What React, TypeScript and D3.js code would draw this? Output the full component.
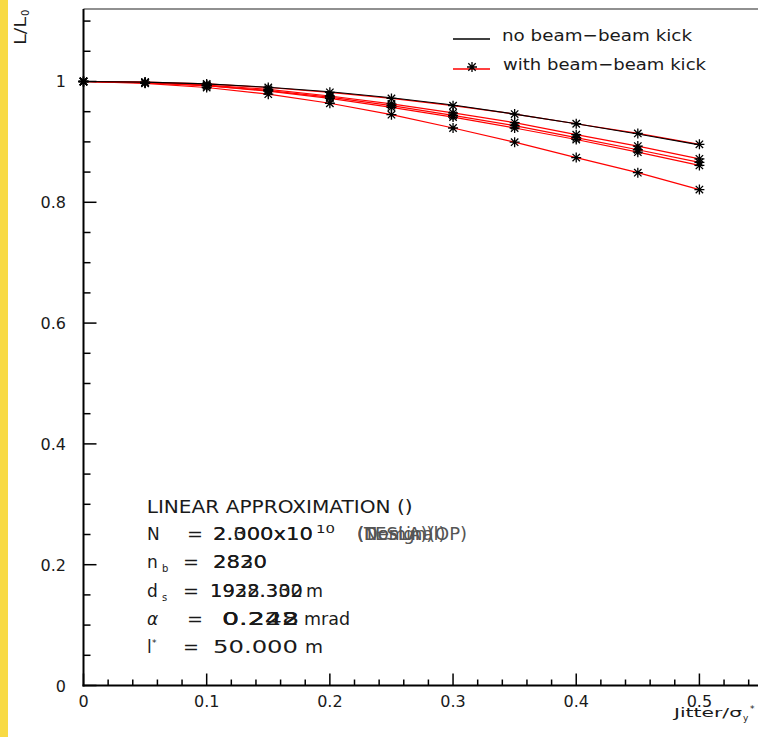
import React from 'react';
import * as d3 from 'd3';

// ---- data ----
const jitter = [0, 0.05, 0.1, 0.15, 0.2, 0.25, 0.3, 0.35, 0.4, 0.45, 0.5];
const noBeamBeam = [1, 0.999, 0.996, 0.9905, 0.983, 0.973, 0.961, 0.946, 0.930, 0.913, 0.895];
const withBB1 = [1, 0.999, 0.996, 0.990, 0.982, 0.972, 0.960, 0.946, 0.930, 0.914, 0.896];
const withBB2 = [1, 0.9985, 0.994, 0.987, 0.976, 0.963, 0.948, 0.932, 0.912, 0.893, 0.872];
const withBB3 = [1, 0.998, 0.993, 0.985, 0.974, 0.960, 0.944, 0.927, 0.907, 0.887, 0.866];
const withBB4 = [1, 0.998, 0.993, 0.984, 0.972, 0.957, 0.941, 0.923, 0.904, 0.883, 0.861];
const withBB5 = [1, 0.997, 0.990, 0.979, 0.964, 0.945, 0.923, 0.8995, 0.874, 0.849, 0.821];
const withSeries = [withBB1, withBB2, withBB3, withBB4, withBB5];

const xMajorTicks = [0, 0.1, 0.2, 0.3, 0.4, 0.5];
const xTickLabels = ['0', '0.1', '0.2', '0.3', '0.4', '0.5'];
const yMajorTicks = [0, 0.2, 0.4, 0.6, 0.8, 1.0];
const yTickLabels = ['0', '0.2', '0.4', '0.6', '0.8', '1'];

const legendLabels = ['no beam\u2212beam kick', 'with beam\u2212beam kick'];
const titleText = 'LINEAR APPROXIMATION ()';
const nValues = ['2.000x10', '2.300x10'];
const nTags = ['(Nominal)', '(TESLA)', '(Design)'];
const nbValues = ['2820', '2830'];
const dsValues = ['1928.330', '1932.302'];
const alphaValues = ['0.242', '0.248', '0.222'];
const lstarValue = '50.000';

const FONT = '"DejaVu Sans", sans-serif';
const W = 758;
const H = 737;

export default function App() {
  const x = d3.scaleLinear().domain([0, 0.55]).range([83.5, 761]);
  const y = d3.scaleLinear().domain([0, 1.12]).range([685.5, 9]);

  const line = (vals: number[]) =>
    d3.line<number>().x((_, i) => x(jitter[i])).y((v) => y(v))(vals) || '';

  const xMinor = d3.range(0, 0.5501, 0.02).filter((t) => Math.abs(t * 10 - Math.round(t * 10)) > 1e-6);
  const yMinor = d3.range(0, 1.1001, 0.05).filter((t) => Math.abs(t * 5 - Math.round(t * 5)) > 1e-6);

  const star = (cx: number, cy: number, key: string) => (
    <path
      key={key}
      d={`M${cx - 5},${cy}H${cx + 5}M${cx},${cy - 5}V${cy + 5}M${cx - 3.7},${cy - 3.7}L${cx + 3.7},${cy + 3.7}M${cx - 3.7},${cy + 3.7}L${cx + 3.7},${cy - 3.7}`}
      stroke="#000"
      strokeWidth={1.3}
      fill="none"
    />
  );

  const x0 = x(0);
  const yb = y(0);
  const txt = '#1a1a1a';

  return (
    <svg
      width={W}
      height={H}
      style={{ position: 'fixed', left: 0, top: 0, background: '#fff' }}
      fontFamily={FONT}
    >
      <rect x={0} y={0} width={W} height={H} fill="#fff" />
      <rect x={0} y={0} width={8} height={H} fill="#F8DA44" />

      {/* frame */}
      <line x1={x0} x2={x(0.55)} y1={y(1.12)} y2={y(1.12)} stroke="#222" strokeWidth={1.2} />
      <line x1={x(0.55)} x2={x(0.55)} y1={y(1.12)} y2={yb} stroke="#222" strokeWidth={1.2} />

      {/* curves */}
      {withSeries.map((s, i) => (
        <path key={'r' + i} d={line(s)} stroke="#ff0000" strokeWidth={1.2} fill="none" />
      ))}
      <path d={line(noBeamBeam)} stroke="#000" strokeWidth={1.1} fill="none" />
      {withSeries.map((s, i) => s.map((v, j) => star(x(jitter[j]), y(v), `m${i}-${j}`)))}

      {/* axes */}
      <line x1={x0} x2={x0} y1={y(1.12)} y2={yb + 1} stroke="#000" strokeWidth={2} />
      <line x1={x0 - 1} x2={x(0.55)} y1={yb} y2={yb} stroke="#000" strokeWidth={2} />
      {yMajorTicks.map((t) => (
        <line key={'ym' + t} x1={x0} x2={x0 + 13} y1={y(t)} y2={y(t)} stroke="#000" strokeWidth={1.5} />
      ))}
      {yMinor.map((t) => (
        <line key={'yn' + t} x1={x0} x2={x0 + 7} y1={y(t)} y2={y(t)} stroke="#000" strokeWidth={1.5} />
      ))}
      {xMajorTicks.map((t) => (
        <line key={'xm' + t} x1={x(t)} x2={x(t)} y1={yb} y2={yb - 12} stroke="#000" strokeWidth={1.5} />
      ))}
      {xMinor.map((t) => (
        <line key={'xn' + t} x1={x(t)} x2={x(t)} y1={yb} y2={yb - 6} stroke="#000" strokeWidth={1.5} />
      ))}
      {yMajorTicks.map((t, i) => (
        <text key={'yl' + t} x={66} y={y(t) + 6} textAnchor="end" fontSize={16} fill={txt}>
          {yTickLabels[i]}
        </text>
      ))}
      {xMajorTicks.map((t, i) => (
        <text key={'xl' + t} x={x(t)} y={yb + 21} textAnchor="middle" fontSize={16} fill={txt}>
          {xTickLabels[i]}
        </text>
      ))}

      {/* axis titles */}
      <text x={674} y={717} fontSize={12} fill={txt} textLength={68} lengthAdjust="spacingAndGlyphs">
        Jitter/σ
      </text>
      <text x={743} y={721} fontSize={9} fill={txt}>y</text>
      <text x={750} y={712} fontSize={9} fill={txt}>*</text>

      <g transform="translate(26,45) rotate(-90)">
        <text x={0} y={0} fontSize={15} fill={txt} textLength={28} lengthAdjust="spacingAndGlyphs">
          L/L
        </text>
        <text x={29} y={3} fontSize={10} fill={txt}>0</text>
      </g>

      {/* legend */}
      <line x1={453} x2={490} y1={39} y2={39} stroke="#000" strokeWidth={1.5} />
      <text x={502} y={41} fontSize={16.5} fill={txt} textLength={190} lengthAdjust="spacingAndGlyphs">
        {legendLabels[0]}
      </text>
      <line x1={453} x2={490} y1={69} y2={69} stroke="#ff0000" strokeWidth={1.5} />
      {star(472, 67, 'leg')}
      <text x={503} y={70} fontSize={16.5} fill={txt} textLength={203} lengthAdjust="spacingAndGlyphs">
        {legendLabels[1]}
      </text>

      {/* info block */}
      <g fill={txt} fontSize={17}>
        <text x={146.7} y={513} textLength={266} lengthAdjust="spacingAndGlyphs">{titleText}</text>

        <text x={147} y={540}>N</text>
        <text x={187} y={540} textLength={16} lengthAdjust="spacingAndGlyphs">=</text>
        {nValues.map((v, i) => (
          <text key={'nv' + i} x={213} y={540} textLength={100} lengthAdjust="spacingAndGlyphs">{v}</text>
        ))}
        <text x={316} y={533} fontSize={10} textLength={19} lengthAdjust="spacingAndGlyphs">10</text>
        {nTags.map((v, i) => (
          <text key={'nt' + i} x={357} y={540} fontSize={18} fill="#555">{v}</text>
        ))}
        <text x={428} y={540} fontSize={18} fill="#555">(OP)</text>

        <text x={147} y={568}>n</text>
        <text x={162} y={572} fontSize={10}>b</text>
        <text x={183} y={568} textLength={16} lengthAdjust="spacingAndGlyphs">=</text>
        {nbValues.map((v, i) => (
          <text key={'nb' + i} x={213} y={568} textLength={54} lengthAdjust="spacingAndGlyphs">{v}</text>
        ))}

        <text x={147} y={597}>d</text>
        <text x={162} y={601} fontSize={10}>s</text>
        <text x={183} y={597} textLength={16} lengthAdjust="spacingAndGlyphs">=</text>
        {dsValues.map((v, i) => (
          <text key={'ds' + i} x={210} y={597} textLength={93} lengthAdjust="spacingAndGlyphs">{v}</text>
        ))}
        <text x={306} y={597} textLength={17} lengthAdjust="spacingAndGlyphs">m</text>

        <text x={147} y={625} fontStyle="italic">α</text>
        <text x={187} y={625} textLength={16} lengthAdjust="spacingAndGlyphs">=</text>
        {alphaValues.map((v, i) => (
          <text key={'al' + i} x={222} y={625} textLength={77} lengthAdjust="spacingAndGlyphs">{v}</text>
        ))}
        <text x={304} y={625} textLength={46} lengthAdjust="spacingAndGlyphs">mrad</text>

        <text x={147} y={653}>l</text>
        <text x={152} y={646} fontSize={9}>*</text>
        <text x={183} y={653} textLength={16} lengthAdjust="spacingAndGlyphs">=</text>
        <text x={213} y={653} textLength={85} lengthAdjust="spacingAndGlyphs">{lstarValue}</text>
        <text x={305} y={653} textLength={18} lengthAdjust="spacingAndGlyphs">m</text>
      </g>
    </svg>
  );
}
